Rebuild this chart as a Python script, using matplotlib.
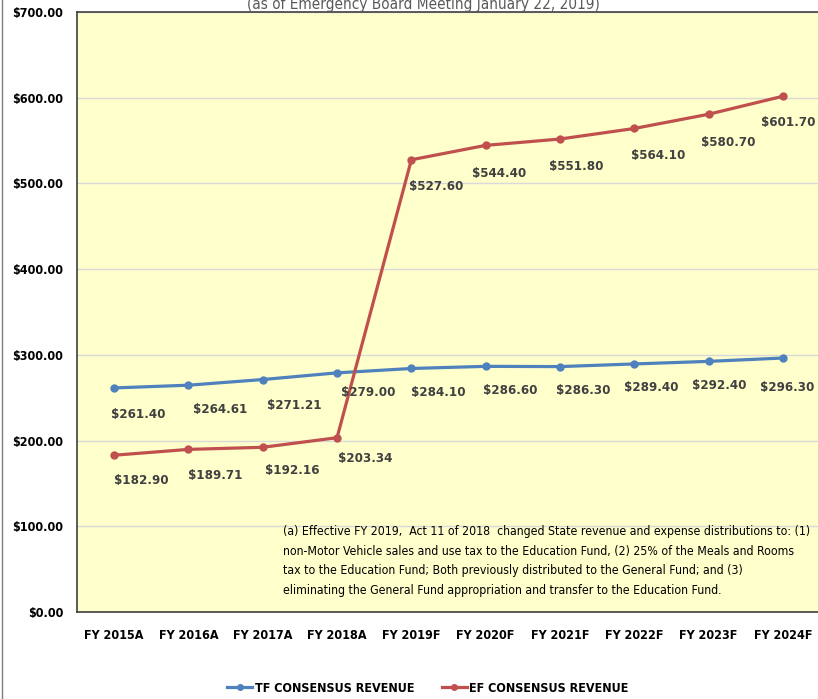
import matplotlib
matplotlib.use("Agg")
import matplotlib.pyplot as plt
from matplotlib.lines import Line2D

plt.rcParams['font.family'] = ['DejaVu Sans']
plt.rcParams['font.stretch'] = 'condensed'

# Data
years = ["FY 2015A", "FY 2016A", "FY 2017A", "FY 2018A", "FY 2019F",
         "FY 2020F", "FY 2021F", "FY 2022F", "FY 2023F", "FY 2024F"]
tf_revenue = [261.40, 264.61, 271.21, 279.00, 284.10, 286.60, 286.30, 289.40, 292.40, 296.30]
ef_revenue = [182.90, 189.71, 192.16, 203.34, 527.60, 544.40, 551.80, 564.10, 580.70, 601.70]

# label offsets in pixels (Excel shifts them around a bit)
tf_off = [(24, -27), (32, -24), (32, -26), (31, -20), (27, -24),
          (25, -24), (23, -24), (17, -24), (11, -24), (4, -29)]
ef_off = [(27, -25), (27, -26), (29, -23), (28, -21), (25, -27),
          (13, -28), (16, -27), (24, -27), (20, -28), (5, -26)]

note = ("(a) Effective FY 2019,  Act 11 of 2018  changed State revenue and expense distributions to: (1)\n"
        "non-Motor Vehicle sales and use tax to the Education Fund, (2) 25% of the Meals and Rooms\n"
        "tax to the Education Fund; Both previously distributed to the General Fund; and (3)\n"
        "eliminating the General Fund appropriation and transfer to the Education Fund.")

blue = "#4F81BD"
red = "#C0504D"
label_col = "#404040"

fig = plt.figure(figsize=(8.18, 6.99), dpi=100)
ax = fig.add_axes([77 / 818, 1 - 612 / 699, 743 / 818, 600 / 699])
ax.set_facecolor("#FFFFCC")

x = list(range(len(years)))
ax.plot(x, tf_revenue, color=blue, lw=2.3, marker="o", ms=5, zorder=3)
ax.plot(x, ef_revenue, color=red, lw=2.3, marker="o", ms=5, zorder=3)

for i in x:
    ax.annotate(f"${tf_revenue[i]:,.2f}", (i, tf_revenue[i]), xytext=tf_off[i],
                textcoords="offset pixels", ha="center", va="center",
                fontsize=9.5, fontweight="bold", color=label_col, zorder=4)
    ax.annotate(f"${ef_revenue[i]:,.2f}", (i, ef_revenue[i]), xytext=ef_off[i],
                textcoords="offset pixels", ha="center", va="center",
                fontsize=9.5, fontweight="bold", color=label_col, zorder=4)

ax.set_xlim(-0.5, 9.5)
ax.set_ylim(0, 700)
ax.set_yticks(range(0, 701, 100))
ax.set_yticklabels([f"${v:,.2f}" for v in range(0, 701, 100)])
ax.set_xticks(x)
ax.set_xticklabels(years)
ax.tick_params(axis="both", length=0, labelsize=9, colors="black")
ax.tick_params(axis="y", pad=10)
ax.tick_params(axis="x", pad=12)
for lab in ax.get_xticklabels() + ax.get_yticklabels():
    lab.set_fontweight("bold")

ax.grid(axis="y", color="#D9D9D9", lw=1)
ax.set_axisbelow(True)
for s in ["top", "left", "bottom"]:
    ax.spines[s].set_color("#404040")
    ax.spines[s].set_linewidth(1.2)
ax.spines["right"].set_visible(False)

fig.text(283 / 818, 1 - 525 / 699, note, ha="left", va="top", fontsize=8.8,
         linespacing=1.66, color="black")

fig.text(423 / 818, 1 - 5 / 699, "(as of Emergency Board Meeting January 22, 2019)",
         ha="center", va="center", fontsize=11, color="#595959")

handles = [Line2D([], [], color=blue, lw=2.3, marker="o", ms=4),
           Line2D([], [], color=red, lw=2.3, marker="o", ms=4)]
leg = fig.legend(handles, ["TF CONSENSUS REVENUE", "EF CONSENSUS REVENUE"],
                 loc="center", bbox_to_anchor=(428 / 818, 1 - 688 / 699), ncol=2,
                 frameon=False, handlelength=2.0, handletextpad=0.2,
                 columnspacing=2.2, prop={"weight": "bold", "size": 9})

# left frame line of the chart area
fig.add_artist(Line2D([2 / 818, 2 / 818], [0, 1], color="#7F7F7F", lw=1,
                      transform=fig.transFigure))

fig.savefig("out.png", dpi=100, facecolor="white")
